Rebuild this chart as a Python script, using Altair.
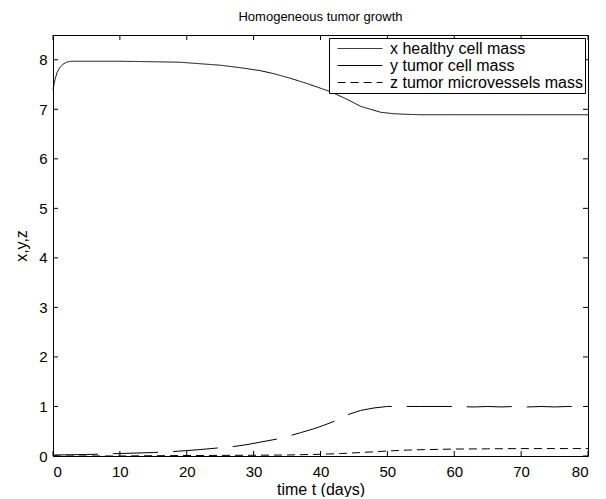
import altair as alt
import pandas as pd

# ---- data ----
t_x = [0, 0.3, 0.6, 1, 1.5, 2, 2.7, 5, 10, 15, 19, 22, 25, 28, 31, 33, 35.4, 38,
       41.4, 44, 46, 48, 49, 51, 52.6, 55, 60, 70, 80]
x_val = [7.40, 7.60, 7.74, 7.84, 7.91, 7.95, 7.97, 7.97, 7.97, 7.96, 7.95, 7.92,
         7.89, 7.84, 7.78, 7.72, 7.63, 7.52, 7.36, 7.20, 7.06, 6.98, 6.94, 6.91,
         6.90, 6.89, 6.89, 6.89, 6.89]

t_y = [0, 5, 10, 15, 18, 20, 22, 24.5, 27, 29, 31, 33.4, 35.4, 37, 39, 40.5, 42.4,
       44.4, 46, 48, 50, 55, 60, 63, 65, 67, 69, 71, 73, 75, 77, 80]
y_val = [0.02, 0.03, 0.05, 0.07, 0.09, 0.11, 0.13, 0.16, 0.19, 0.23, 0.28, 0.34,
         0.41, 0.47, 0.55, 0.62, 0.72, 0.85, 0.92, 0.97, 1.0, 1.0, 1.0, 0.99, 1.0,
         0.99, 1.0, 0.99, 1.0, 0.99, 1.0, 1.0]

t_z = [0, 5, 10, 20, 30, 35, 40, 43, 46, 48, 50, 53, 56, 60, 65, 70, 80]
z_val = [0.0, 0.0, 0.0, 0.01, 0.015, 0.02, 0.035, 0.05, 0.07, 0.085, 0.1, 0.12,
         0.13, 0.14, 0.145, 0.15, 0.15]

series = ["x healthy cell mass", "y tumor cell mass", "z tumor microvessels mass"]
x_ticks = [0, 10, 20, 30, 40, 50, 60, 70, 80]
y_ticks = [0, 1, 2, 3, 4, 5, 6, 7, 8]

title = "Homogeneous tumor growth"
x_title = "time t (days)"
y_title = "x,y,z"

# ---- build tables ----
rows = []
for t, v in zip(t_x, x_val):
    rows.append({"t": t, "v": v, "s": series[0]})
for t, v in zip(t_y, y_val):
    rows.append({"t": t, "v": v, "s": series[1]})
for t, v in zip(t_z, z_val):
    rows.append({"t": t, "v": v, "s": series[2]})
df = pd.DataFrame(rows)
xt = pd.DataFrame({"t": x_ticks})
yt = pd.DataFrame({"v": y_ticks})

W, H = 535, 421
FONT = "Liberation Sans"
TL = 5

xscale = alt.Scale(domain=[0, 80], nice=False, zero=False)
yscale = alt.Scale(domain=[0, 8.5], nice=False, zero=False)

xaxis = alt.Axis(values=x_ticks, ticks=False, domain=False, grid=False,
                 title=x_title, labelPadding=8, titlePadding=2,
                 labelFontSize=15, titleFontSize=16, titleFontWeight="normal")
yaxis = alt.Axis(values=y_ticks, ticks=False, domain=False, grid=False,
                 title=y_title, labelPadding=6, titlePadding=9,
                 labelFontSize=15, titleFontSize=16, titleFontWeight="normal")

lines = alt.Chart(df).mark_line(color="black", strokeWidth=1).encode(
    x=alt.X("t:Q", scale=xscale, axis=xaxis),
    y=alt.Y("v:Q", scale=yscale, axis=yaxis),
    strokeDash=alt.StrokeDash(
        "s:N",
        scale=alt.Scale(domain=series, range=[[1, 0], [45, 15], [8, 5]]),
        legend=alt.Legend(title=None),
    ),
    detail="s:N",
)

bottom_ticks = alt.Chart(xt).mark_rule(color="black", strokeWidth=1).encode(
    x=alt.X("t:Q", scale=xscale), y=alt.value(H), y2=alt.value(H - TL))
top_ticks = alt.Chart(xt).mark_rule(color="black", strokeWidth=1).encode(
    x=alt.X("t:Q", scale=xscale), y=alt.value(0), y2=alt.value(TL))
left_ticks = alt.Chart(yt).mark_rule(color="black", strokeWidth=1).encode(
    y=alt.Y("v:Q", scale=yscale), x=alt.value(0), x2=alt.value(TL))
right_ticks = alt.Chart(yt).mark_rule(color="black", strokeWidth=1).encode(
    y=alt.Y("v:Q", scale=yscale), x=alt.value(W), x2=alt.value(W - TL))

chart = alt.layer(bottom_ticks, top_ticks, left_ticks, right_ticks, lines).properties(
    width=W, height=H,
    title=alt.TitleParams(title, fontSize=13, fontWeight="normal", font=FONT,
                          offset=11, color="black"),
    autosize=alt.AutoSizeParams(type="none"),
    padding={"left": 45, "top": 27, "right": 10, "bottom": 41},
).configure(
    font=FONT,
).configure_view(
    stroke="black", strokeWidth=1,
).configure_axis(
    labelFont=FONT, titleFont=FONT, labelColor="black", titleColor="black",
).configure_legend(
    orient="top-right", offset=3, fillColor="white", strokeColor="black",
    padding=2, symbolOffset=20.5, symbolType="M-2.8,0H2.8", symbolSize=256,
    symbolStrokeWidth=1, symbolStrokeColor="black", labelFont=FONT,
    labelFontSize=16, labelColor="black", labelOffset=21.5, labelLimit=400,
    rowPadding=0, cornerRadius=0,
)

chart.save("out.html", embed_options={"renderer": "svg", "actions": False})
